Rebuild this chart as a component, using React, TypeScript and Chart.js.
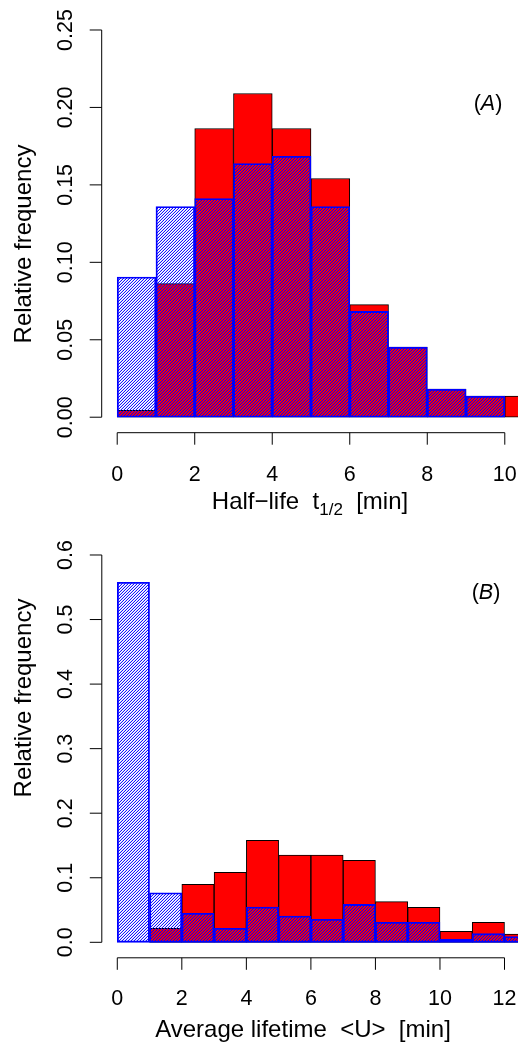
import React, { useEffect, useRef } from "react";
import { Chart, registerables } from "chart.js";

Chart.register(...registerables);

// ---------- Panel A: half-life ----------
const binMidsA = [0.5, 1.5, 2.5, 3.5, 4.5, 5.5, 6.5, 7.5, 8.5, 9.5, 10.5];
const redA = [0.0045, 0.0862, 0.1864, 0.209, 0.1864, 0.1541, 0.0727, 0.0452, 0.0181, 0.0136, 0.0136];
const blueA = [0.0905, 0.136, 0.1412, 0.1638, 0.1685, 0.136, 0.0683, 0.0452, 0.0181, 0.0136, 0];
const xTicksA = [0, 2, 4, 6, 8, 10];
const xTickLabelsA = ["0", "2", "4", "6", "8", "10"];
const yTicksA = [0, 0.05, 0.1, 0.15, 0.2, 0.25];
const yTickLabelsA = ["0.00", "0.05", "0.10", "0.15", "0.20", "0.25"];

// ---------- Panel B: average lifetime ----------
const binMidsB = [0.5, 1.5, 2.5, 3.5, 4.5, 5.5, 6.5, 7.5, 8.5, 9.5, 10.5, 11.5, 12.5];
const redB = [0, 0.0217, 0.0898, 0.1084, 0.158, 0.1352, 0.1352, 0.127, 0.063, 0.0542, 0.017, 0.031, 0.0129];
const blueB = [0.5577, 0.0768, 0.0449, 0.0217, 0.0547, 0.0407, 0.0356, 0.0588, 0.031, 0.031, 0.0046, 0.0134, 0.009];
const xTicksB = [0, 2, 4, 6, 8, 10, 12];
const xTickLabelsB = ["0", "2", "4", "6", "8", "10", "12"];
const yTicksB = [0, 0.1, 0.2, 0.3, 0.4, 0.5, 0.6];
const yTickLabelsB = ["0.0", "0.1", "0.2", "0.3", "0.4", "0.5", "0.6"];

const FONT = "'Liberation Sans', Arial, Helvetica, sans-serif";

function makeHatch(ctx: CanvasRenderingContext2D): CanvasPattern | string {
  const c = document.createElement("canvas");
  c.width = 3;
  c.height = 3;
  const g = c.getContext("2d");
  if (!g) return "rgba(0,0,255,0.5)";
  const img = g.createImageData(3, 3);
  for (let y = 0; y < 3; y++) {
    for (let x = 0; x < 3; x++) {
      const d = (x + y) % 3;
      const a = d === 2 ? 235 : d === 1 ? 45 : 0;
      const i = (y * 3 + x) * 4;
      img.data[i] = 0;
      img.data[i + 1] = 0;
      img.data[i + 2] = 255;
      img.data[i + 3] = a;
    }
  }
  g.putImageData(img, 0, 0);
  return ctx.createPattern(c, "repeat") || "rgba(0,0,255,0.5)";
}

type TitlePart = { text: string; sub?: boolean };

type PanelCfg = {
  width: number;
  height: number;
  top: number;
  padding: { left: number; right: number; top: number; bottom: number };
  xRange: [number, number];
  yRange: [number, number];
  mids: number[];
  red: number[];
  blue: number[];
  xTicks: number[];
  xTickLabels: string[];
  yTicks: number[];
  yTickLabels: string[];
  yTitleX: number;
  yTitleY: number;
  yTickLabelX: number;
  xTickLabelY: number;
  xTitleY: number;
  xTitleX: number;
  xTitle: TitlePart[];
  panelLetter: string;
  panelX: number;
  panelY: number;
};

const rAxesPlugin = {
  id: "rAxes",
  afterDraw(chart: any, _args: any, opts: any) {
    const cfg: PanelCfg = opts.cfg;
    const ctx: CanvasRenderingContext2D = chart.ctx;
    const xs = chart.scales.x;
    const ys = chart.scales.y;
    const { left, bottom } = chart.chartArea;
    const tickLen = 12;
    ctx.save();
    ctx.strokeStyle = "#000";
    ctx.fillStyle = "#000";
    ctx.lineWidth = 1;

    // y axis
    const yv: number[] = ys.ticks.length ? ys.ticks.map((t: any) => t.value) : cfg.yTicks;
    ctx.beginPath();
    ctx.moveTo(left, ys.getPixelForValue(yv[0]));
    ctx.lineTo(left, ys.getPixelForValue(yv[yv.length - 1]));
    yv.forEach((v) => {
      const p = ys.getPixelForValue(v);
      ctx.moveTo(left, p);
      ctx.lineTo(left - tickLen, p);
    });
    // x axis
    const xv: number[] = xs.ticks.length ? xs.ticks.map((t: any) => t.value) : cfg.xTicks;
    ctx.moveTo(xs.getPixelForValue(xv[0]), bottom);
    ctx.lineTo(xs.getPixelForValue(xv[xv.length - 1]), bottom);
    xv.forEach((v) => {
      const p = xs.getPixelForValue(v);
      ctx.moveTo(p, bottom);
      ctx.lineTo(p, bottom + tickLen);
    });
    ctx.stroke();

    // y tick labels (rotated)
    ctx.font = `21.5px ${FONT}`;
    ctx.textAlign = "center";
    ctx.textBaseline = "alphabetic";
    yv.forEach((v, i) => {
      const p = ys.getPixelForValue(v);
      ctx.save();
      ctx.translate(cfg.yTickLabelX, p);
      ctx.rotate(-Math.PI / 2);
      ctx.fillText(cfg.yTickLabels[i], 0, 0);
      ctx.restore();
    });
    // x tick labels
    xv.forEach((v, i) => {
      const p = xs.getPixelForValue(v);
      ctx.fillText(cfg.xTickLabels[i], p, cfg.xTickLabelY);
    });

    // y title
    ctx.font = `24px ${FONT}`;
    ctx.save();
    ctx.translate(cfg.yTitleX, cfg.yTitleY);
    ctx.rotate(-Math.PI / 2);
    ctx.fillText("Relative frequency", 0, 0);
    ctx.restore();

    // x title with optional subscript
    const mainFont = `24px ${FONT}`;
    const subFont = `17px ${FONT}`;
    let total = 0;
    cfg.xTitle.forEach((part) => {
      ctx.font = part.sub ? subFont : mainFont;
      total += ctx.measureText(part.text).width;
    });
    let cx = cfg.xTitleX - total / 2;
    ctx.textAlign = "left";
    cfg.xTitle.forEach((part) => {
      ctx.font = part.sub ? subFont : mainFont;
      ctx.fillText(part.text, cx, cfg.xTitleY + (part.sub ? 6 : 0));
      cx += ctx.measureText(part.text).width;
    });

    // panel letter "(A)" with italic letter
    const pFont = `21.5px ${FONT}`;
    const iFont = `italic 21.5px ${FONT}`;
    const parts = [
      { t: "(", f: pFont },
      { t: cfg.panelLetter, f: iFont },
      { t: ")", f: pFont },
    ];
    let pw = 0;
    parts.forEach((p) => {
      ctx.font = p.f;
      pw += ctx.measureText(p.t).width;
    });
    let px = cfg.panelX - pw / 2;
    parts.forEach((p) => {
      ctx.font = p.f;
      ctx.fillText(p.t, px, cfg.panelY);
      px += ctx.measureText(p.t).width;
    });
    ctx.restore();
  },
};

function Panel({ cfg }: { cfg: PanelCfg }) {
  const ref = useRef<HTMLCanvasElement | null>(null);
  useEffect(() => {
    const canvas = ref.current;
    if (!canvas) return;
    const ctx = canvas.getContext("2d");
    if (!ctx) return;
    const hatch = makeHatch(ctx);
    const chart = new Chart(ctx, {
      type: "bar",
      data: {
        datasets: [
          {
            label: "red",
            data: cfg.mids.map((x, i) => ({ x, y: cfg.red[i] })),
            backgroundColor: "#ff0000",
            borderColor: "#000000",
            borderWidth: 1,
            borderSkipped: false,
            grouped: false,
            order: 2,
            barPercentage: 1,
            categoryPercentage: 1,
          } as any,
          {
            label: "blue",
            data: cfg.mids.map((x, i) => ({ x, y: cfg.blue[i] })),
            backgroundColor: hatch as any,
            borderColor: "#0000ff",
            borderWidth: 1.2,
            borderSkipped: false,
            grouped: false,
            order: 1,
            barPercentage: 1,
            categoryPercentage: 1,
          } as any,
        ],
      },
      options: {
        animation: false,
        responsive: false,
        devicePixelRatio: 1,
        events: [],
        layout: { padding: cfg.padding },
        plugins: {
          legend: { display: false },
          tooltip: { enabled: false },
          rAxes: { cfg },
        } as any,
        scales: {
          x: {
            type: "linear",
            min: cfg.xRange[0],
            max: cfg.xRange[1],
            offset: false,
            display: false,
            afterBuildTicks: (s: any) => {
              s.ticks = cfg.xTicks.map((v) => ({ value: v }));
            },
          },
          y: {
            type: "linear",
            min: cfg.yRange[0],
            max: cfg.yRange[1],
            display: false,
            afterBuildTicks: (s: any) => {
              s.ticks = cfg.yTicks.map((v) => ({ value: v }));
            },
          },
        },
      },
      plugins: [rAxesPlugin as any],
    });
    return () => chart.destroy();
  }, [cfg]);
  return (
    <canvas
      ref={ref}
      width={cfg.width}
      height={cfg.height}
      style={{ position: "absolute", left: 0, top: cfg.top, width: cfg.width, height: cfg.height }}
    />
  );
}

const cfgA: PanelCfg = {
  width: 530,
  height: 520,
  top: 0,
  padding: { left: 101.7, right: 530 - 520.3, top: 14.5, bottom: 520 - 432.7 },
  xRange: [-0.4, 10.4],
  yRange: [-0.01, 0.26],
  mids: binMidsA,
  red: redA,
  blue: blueA,
  xTicks: xTicksA,
  xTickLabels: xTickLabelsA,
  yTicks: yTicksA,
  yTickLabels: yTickLabelsA,
  yTitleX: 31,
  yTitleY: 244,
  yTickLabelX: 71.7,
  xTickLabelY: 480.7,
  xTitleY: 509,
  xTitleX: 310,
  xTitle: [{ text: "Half\u2212life  t" }, { text: "1/2", sub: true }, { text: "  [min]" }],
  panelLetter: "A",
  panelX: 488,
  panelY: 110,
};

const cfgB: PanelCfg = {
  width: 530,
  height: 523,
  top: 520,
  padding: { left: 101.8, right: 10, top: 539.5 - 520, bottom: 523 - (957.8 - 520) },
  xRange: [-0.48, 12.48],
  yRange: [-0.024, 0.624],
  mids: binMidsB,
  red: redB,
  blue: blueB,
  xTicks: xTicksB,
  xTickLabels: xTickLabelsB,
  yTicks: yTicksB,
  yTickLabels: yTickLabelsB,
  yTitleX: 31,
  yTitleY: 698 - 520,
  yTickLabelX: 71.7,
  xTickLabelY: 1005 - 520,
  xTitleY: 1037 - 520,
  xTitleX: 303,
  xTitle: [{ text: "Average lifetime  <U>  [min]" }],
  panelLetter: "B",
  panelX: 486,
  panelY: 599.3 - 520,
};

export default function App() {
  return (
    <div
      style={{
        position: "fixed",
        left: 0,
        top: 0,
        width: 518,
        height: 1043,
        overflow: "hidden",
        background: "#ffffff",
      }}
    >
      <Panel cfg={cfgA} />
      <Panel cfg={cfgB} />
    </div>
  );
}
